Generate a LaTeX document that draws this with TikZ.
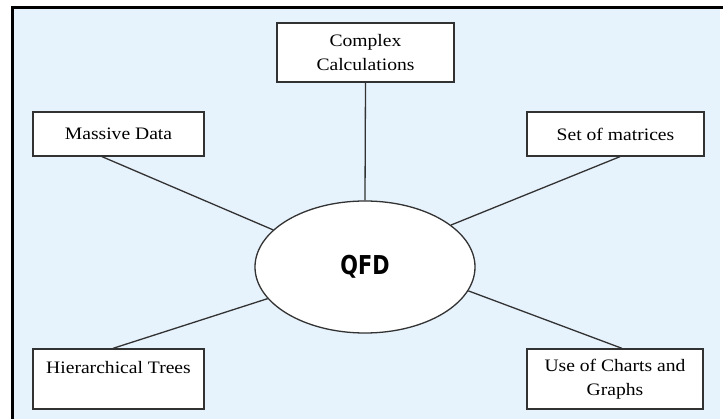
\documentclass[tikz,border=0pt]{standalone}
\usepackage{fontspec}
\usetikzlibrary{shapes.geometric}
\newfontfamily\boxfont[FakeStretch=1.12]{Liberation Serif}
\newfontfamily\qfdfont[FakeStretch=0.8]{DejaVu Sans}
\definecolor{bgblue}{RGB}{230,242,252}
\definecolor{edge}{RGB}{50,50,50}
\begin{document}
\begin{tikzpicture}[x=1pt,y=-1pt,
  boxnode/.style={draw=edge,line width=1.3pt,fill=white,rectangle,inner sep=0pt,
    align=center,font=\boxfont\fontsize{17.5}{24}\selectfont},
  link/.style={draw=edge,line width=1.3pt}]
\useasboundingbox (0,0) rectangle (723,419);
\fill[white] (0,0) rectangle (723,419);
\fill[bgblue] (14,9) rectangle (720,419);
\fill[black] (11,6) rectangle (723,9);
\fill[black] (11,6) rectangle (14,419);

\node[boxnode,minimum width=177pt,minimum height=59pt] (cc) at (365.5,52.5) {Complex\\Calculations};
\node[boxnode,minimum width=171pt,minimum height=44pt] (md) at (118.5,134) {Massive Data};
\node[boxnode,minimum width=177pt,minimum height=44pt] (sm) at (615.5,134) {Set of matrices};
\node[boxnode,minimum width=171pt,minimum height=60pt] (ht) at (118.5,379) {Hierarchical Trees\\\mbox{}};
\node[boxnode,minimum width=176pt,minimum height=60pt] (uc) at (615,379) {Use of Charts and\\Graphs};

\node[ellipse,draw=edge,line width=1.3pt,fill=white,inner sep=0pt,
  minimum width=220pt,minimum height=132pt,
  font=\qfdfont\bfseries\fontsize{26}{30}\selectfont] (q) at (365,267) {QFD};

\draw[link] (cc.south) -- (q.north);
\draw[link] ([xshift=-16.5pt]md.south) -- (q.158.8);
\draw[link] ([xshift=4.5pt]sm.south) -- (q.26.8);
\draw[link] ([xshift=-5.5pt]ht.north) -- (q.198.3);
\draw[link] ([xshift=7pt]uc.north) -- (q.347.6);
\end{tikzpicture}
\end{document}
